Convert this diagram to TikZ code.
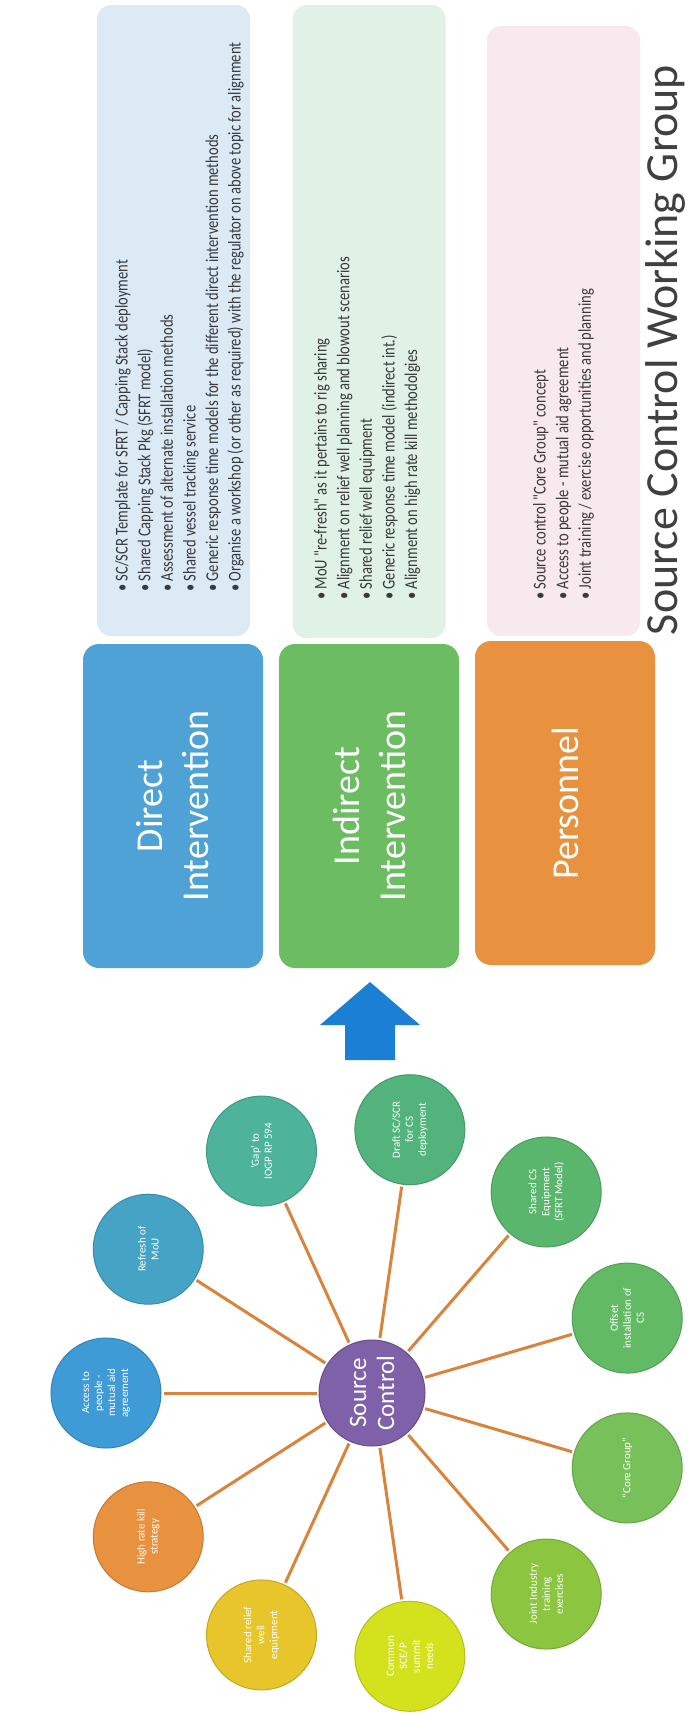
\documentclass[tikz,border=0pt]{standalone}
\usepackage{fontspec}
\setmainfont{Carlito}
\newfontfamily\narrowfont[FakeStretch=0.81]{Carlito}
\usetikzlibrary{calc}
\definecolor{titlegray}{HTML}{404040}
\definecolor{bultext}{HTML}{3A3A3A}
\definecolor{dblue}{HTML}{4EA2D6}
\definecolor{lblue}{HTML}{DCEAF6}
\definecolor{dgreen}{HTML}{6CBD62}
\definecolor{lgreen}{HTML}{E0F1E6}
\definecolor{dorange}{HTML}{E8923F}
\definecolor{lpink}{HTML}{F8E9EE}
\definecolor{arrowblue}{HTML}{1B7FD6}
\definecolor{hubpurple}{HTML}{7F61A9}
\definecolor{linkorange}{HTML}{D9833C}
\definecolor{cAccess}{HTML}{3E9BD6}
\definecolor{cRefresh}{HTML}{45A3C6}
\definecolor{cGap}{HTML}{4DB39B}
\definecolor{cDraft}{HTML}{52B47C}
\definecolor{cShared}{HTML}{5AB66C}
\definecolor{cOffset}{HTML}{63BA64}
\definecolor{cCore}{HTML}{78C05A}
\definecolor{cJoint}{HTML}{8CC540}
\definecolor{cCommon}{HTML}{D4E21E}
\definecolor{cRelief}{HTML}{E7C52B}
\definecolor{cHigh}{HTML}{E8913F}
\begin{document}
\begin{tikzpicture}[x=1pt,y=1pt,
  lightbox/.style={rounded corners=14, inner sep=0, minimum width=153},
  darkbox/.style={rounded corners=16, inner sep=0, minimum width=324, minimum height=180,
    text=white, align=center, rotate=90, font=\fontsize{38}{46}\selectfont},
  bullist/.style={rotate=90, anchor=north west, inner sep=0, align=left, text=bultext,
    font=\narrowfont\fontsize{18}{22.6}\selectfont},
  bub/.style={circle, fill=#1, draw=#1!85!black, line width=1, minimum size=110, inner sep=1,
    text=white, align=center, rotate=90, font=\fontsize{11}{13}\selectfont},
  hub/.style={circle, fill=hubpurple, draw=hubpurple!80!black, line width=1, minimum size=106,
    inner sep=0, text=white, align=center, rotate=90, font=\fontsize{25}{28}\selectfont},
  conn/.style={draw=linkorange, line width=3}
]
\useasboundingbox (0,0) rectangle (688,-1717);
\fill[white] (0,0) rectangle (688,-1717);

% title
\node[rotate=90, anchor=base, inner sep=0, text=titlegray, font=\fontsize{46}{52}\selectfont] (title) at (677,-350) {Source Control Working Group};

% light boxes
\node[lightbox, fill=lblue, minimum height=631] (dlist) at (173.5,-320.5) {};
\node[lightbox, fill=lgreen, minimum height=633] (ilist) at (369,-321.5) {};
\node[lightbox, fill=lpink, minimum height=610] (plist) at (563.5,-331) {};

% bullet texts
\node[bullist] (dtext) at (115,-592) {%
\textbullet\ SC/SCR Template for SFRT / Capping Stack deployment\\
\textbullet\ Shared Capping Stack Pkg (SFRT model)\\
\textbullet\ Assessment of alternate installation methods\\
\textbullet\ Shared vessel tracking service\\
\textbullet\ Generic response time models for the different direct intervention methods\\
\textbullet\ Organise a workshop (or other as required) with the regulator on above topic for alignment};
\node[bullist] (itext) at (314,-600) {%
\textbullet\ MoU "re-fresh" as it pertains to rig sharing\\
\textbullet\ Alignment on relief well planning and blowout scenarios\\
\textbullet\ Shared relief well equipment\\
\textbullet\ Generic response time model (indirect int.)\\
\textbullet\ Alignment on high rate kill methodolgies};
\node[bullist] (ptext) at (533,-600) {%
\textbullet\ Source control "Core Group" concept\\
\textbullet\ Access to people - mutual aid agreement\\
\textbullet\ Joint training / exercise opportunities and planning};

% dark boxes
\node[darkbox, fill=dblue] (direct) at (173,-806) {Direct\\Intervention};
\node[darkbox, fill=dgreen] (indirect) at (369,-806) {Indirect\\Intervention};
\node[darkbox, fill=dorange] (personnel) at (565,-803) {Personnel};

% block arrow
\fill[arrowblue] (345,-1060) -- (345,-1025) -- (320,-1025) -- (370,-982) -- (420,-1025) -- (395,-1025) -- (395,-1060) -- cycle;

% radial diagram
\coordinate (c) at (372,-1393);
\node[hub] (sc) at (c) {Source\\Control};
\node[bub=cAccess]  (b0)  at ($(c)+(180:266pt)$) {Access to\\people -\\mutual aid\\agreement};
\node[bub=cRefresh] (b1)  at ($(c)+(147.27:266pt)$) {Refresh of\\MoU};
\node[bub=cGap]     (b2)  at ($(c)+(114.55:266pt)$) {‘Gap’ to\\IOGP RP 594};
\node[bub=cDraft]   (b3)  at ($(c)+(81.82:266pt)$) {Draft SC/SCR\\for CS\\deployment};
\node[bub=cShared]  (b4)  at ($(c)+(49.09:266pt)$) {Shared CS\\Equipment\\(SFRT Model)};
\node[bub=cOffset]  (b5)  at ($(c)+(16.36:266pt)$) {Offset\\installation of\\CS};
\node[bub=cCore]    (b6)  at ($(c)+(-16.36:266pt)$) {“Core Group”};
\node[bub=cJoint]   (b7)  at ($(c)+(-49.09:266pt)$) {Joint Industry\\training\\exercises};
\node[bub=cCommon]  (b8)  at ($(c)+(-81.82:266pt)$) {Common\\SCE/P\\summit\\needs};
\node[bub=cRelief]  (b9)  at ($(c)+(-114.55:266pt)$) {Shared relief\\well\\equipment};
\node[bub=cHigh]    (b10) at ($(c)+(-147.27:266pt)$) {High rate kill\\strategy};
\foreach \i in {0,...,10} \draw[conn, shorten <=2pt, shorten >=2pt] (sc) -- (b\i);
\end{tikzpicture}
\end{document}
